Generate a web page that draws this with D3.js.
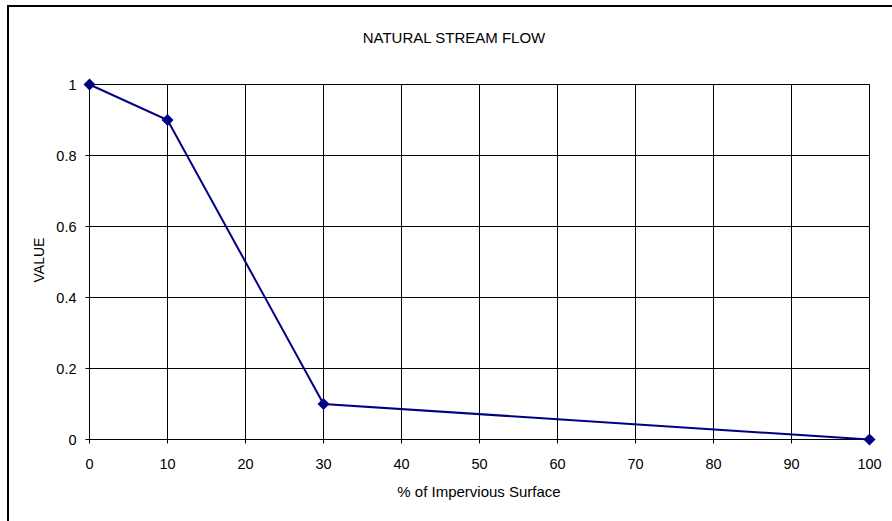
<!DOCTYPE html>
<html>
<head>
<meta charset="utf-8">
<script src="https://cdn.jsdelivr.net/npm/d3@7"></script>
<style>
  html, body { margin: 0; padding: 0; background: #fff; }
  svg { display: block; }
  text { font-family: "Liberation Sans", Arial, Helvetica, sans-serif; fill: #000; }
</style>
</head>
<body>
<svg id="chart" width="892" height="521"></svg>
<script>
const xValues = [0, 10, 30, 100];
const yValues = [1, 0.9, 0.1, 0];
const xTicks = [0, 10, 20, 30, 40, 50, 60, 70, 80, 90, 100];
const yTicks = [0, 0.2, 0.4, 0.6, 0.8, 1];
const yTickLabels = ["0", "0.2", "0.4", "0.6", "0.8", "1"];
const title = "NATURAL STREAM FLOW";
const xTitle = "% of Impervious Surface";
const yTitle = "VALUE";

const svg = d3.select("#chart");

// outer chart border (extends beyond the window on right/bottom)
svg.append("rect")
  .attr("x", 8).attr("y", 6)
  .attr("width", 900).attr("height", 530)
  .attr("fill", "none").attr("stroke", "#000").attr("stroke-width", 2);

const pLeft = 89.5, pRight = 869.5, pTop = 84.5, pBottom = 439.5;
const x = d3.scaleLinear().domain([0, 100]).range([pLeft, pRight]);
const y = d3.scaleLinear().domain([0, 1]).range([pBottom, pTop]);
const snap = v => Math.round(v - 0.5) + 0.5;

const g = svg.append("g");

// grid
g.selectAll(".vgrid").data(xTicks).enter().append("line")
  .attr("x1", d => snap(x(d))).attr("x2", d => snap(x(d)))
  .attr("y1", pTop).attr("y2", pBottom)
  .attr("stroke", "#000").attr("stroke-width", 1);
g.selectAll(".hgrid").data(yTicks).enter().append("line")
  .attr("y1", d => snap(y(d))).attr("y2", d => snap(y(d)))
  .attr("x1", pLeft).attr("x2", pRight)
  .attr("stroke", "#000").attr("stroke-width", 1);

// axes
const xAxis = d3.axisBottom(x).tickValues(xTicks).tickSize(4).tickPadding(15).tickFormat(d3.format("d"));
const xg = svg.append("g").attr("transform", `translate(0,${pBottom})`).call(xAxis);
const yAxis = d3.axisLeft(y).tickValues(yTicks).tickSize(4).tickPadding(9)
  .tickFormat((d, i) => yTickLabels[i]);
const yg = svg.append("g").attr("transform", `translate(${pLeft},0)`).call(yAxis);

[xg, yg].forEach(ax => {
  ax.select(".domain").remove();
  ax.selectAll("line").attr("stroke", "#000");
  ax.selectAll("text").style("font-family", '"Liberation Sans", Arial, sans-serif').style("font-size", "14.5px").attr("fill", "#000");
});
xg.selectAll(".tick").attr("transform", d => `translate(${snap(x(d))},0)`);
yg.selectAll(".tick").attr("transform", d => `translate(0,${snap(y(d))})`);
yg.selectAll("text").attr("dy", "0.36em");

// line
const pts = xValues.map((v, i) => [v, yValues[i]]);
svg.append("path")
  .datum(pts)
  .attr("fill", "none")
  .attr("stroke", "#000080")
  .attr("stroke-width", 2)
  .attr("d", d3.line().x(d => x(d[0])).y(d => y(d[1])));

// markers
svg.selectAll(".pt").data(pts).enter().append("path")
  .attr("transform", d => `translate(${x(d[0])},${y(d[1])})`)
  .attr("d", "M0,-6L6,0L0,6L-6,0Z")
  .attr("fill", "#000080");

// titles
svg.append("text").attr("x", 454).attr("y", 43).attr("text-anchor", "middle")
  .style("font-size", "15px").text(title);
svg.append("text").attr("x", 479).attr("y", 497).attr("text-anchor", "middle")
  .style("font-size", "15px").text(xTitle);
svg.append("text").attr("transform", "translate(44,260) rotate(-90)").attr("text-anchor", "middle")
  .style("font-size", "14px").text(yTitle);
</script>
</body>
</html>
